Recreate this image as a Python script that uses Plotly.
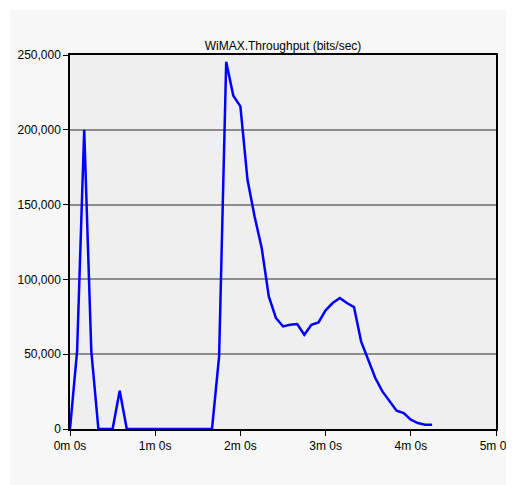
import plotly.graph_objects as go

# time in seconds
times = [0, 5, 10, 15, 20, 25, 30, 35, 40, 45, 50, 55, 60, 65, 70, 75, 80, 85, 90, 95,
         100, 105, 110, 115, 120, 125, 130, 135, 140, 145, 150, 155, 160, 165, 170, 175,
         180, 185, 190, 195, 200, 205, 210, 215, 220, 225, 230, 235, 240, 245, 250, 255]
throughput = [0, 52000, 200000, 52000, 0, 0, 0, 25600, 0, 0, 0, 0, 0, 0, 0, 0, 0, 0, 0, 0,
              0, 48500, 245500, 222800, 215700, 166600, 142100, 121000, 88600, 74200, 68600, 69700,
              70200, 63000, 69700, 71300, 79300, 84200, 87600, 84200, 81500, 58600, 46300, 34100,
              25100, 18400, 12200, 10700, 6200, 4000, 2900, 2900]

x_tick_vals = [0, 60, 120, 180, 240, 300]
x_tick_text = ["0m 0s", "1m 0s", "2m 0s", "3m 0s", "4m 0s", "5m 0s"]
y_tick_vals = [0, 50000, 100000, 150000, 200000, 250000]
title_text = "WiMAX.Throughput (bits/sec)"

FONT = "Liberation Sans, Arial, sans-serif"

fig = go.Figure()
fig.add_trace(go.Scatter(x=times, y=throughput, mode="lines",
                         line=dict(color="#0000ff", width=2.5), hoverinfo="x+y"))

fig.update_layout(
    width=506, height=477,
    margin=dict(l=62, r=18, t=47, b=56),
    paper_bgcolor="white",
    plot_bgcolor="#efefef",
    showlegend=False,
    font=dict(family=FONT, size=12, color="black"),
    title=dict(text=title_text, x=0.5, xref="paper", xanchor="center", y=1, yref="paper",
               yanchor="bottom", pad=dict(b=5), font=dict(family=FONT, size=12, color="black")),
    shapes=[
        dict(type="rect", xref="paper", yref="paper", x0=-0.141, x1=1.05, y0=-0.16, y1=1.12,
             fillcolor="#f7f7f7", line=dict(width=0), layer="below"),
        dict(type="rect", xref="paper", yref="paper", x0=0, x1=1, y0=0, y1=1,
             fillcolor="#efefef", line=dict(width=0), layer="below"),
    ],
)
fig.update_xaxes(range=[0, 300], tickvals=x_tick_vals, ticktext=x_tick_text,
                 automargin=False, tickfont=dict(size=12),
                 showgrid=False, zeroline=False, showline=True, linecolor="black",
                 linewidth=1.5, mirror=True, ticks="outside", ticklen=5, tickcolor="black",
                 tickwidth=1)
fig.update_yaxes(range=[0, 250000], tickvals=y_tick_vals, tickformat=",d",
                 automargin=False, tickfont=dict(size=12),
                 showgrid=True, gridcolor="#8c8c8c", gridwidth=1.5, zeroline=False,
                 showline=True, linecolor="black", linewidth=1.5, mirror=True,
                 ticks="outside", ticklen=5, tickcolor="black", tickwidth=1)

fig.write_html("out.html")
